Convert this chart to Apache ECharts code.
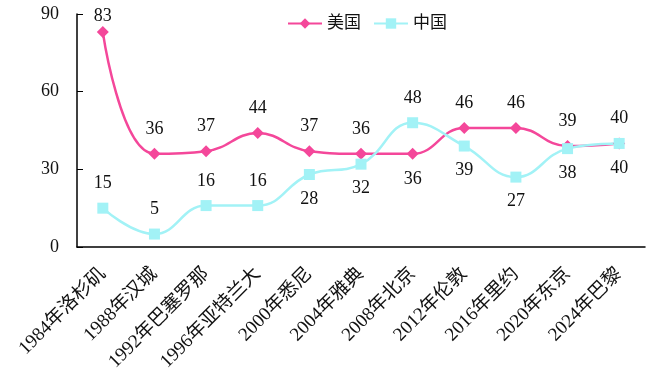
<!DOCTYPE html>
<html><head><meta charset="utf-8">
<script src="https://cdn.jsdelivr.net/npm/echarts@6/dist/echarts.min.js"></script>
<style>html,body{margin:0;padding:0;background:#fff}#c{width:650px;height:390px}</style>
</head><body><div id="c"></div>
<script>
const categories = ['1984年洛杉矶','1988年汉城','1992年巴塞罗那','1996年亚特兰大','2000年悉尼','2004年雅典','2008年北京','2012年伦敦','2016年里约','2020年东京','2024年巴黎'];
const usa = [83,36,37,44,37,36,36,46,46,39,40];
const china = [15,5,16,16,28,32,48,39,27,38,40];
const usaLabelPos = ['top','top','top','top','top','top','bottom','top','top','top','top'];
const chinaLabelPos = ['top','top','top','top','bottom','bottom','top','bottom','bottom','bottom','bottom'];
const yTicks = [0,30,60,90];

const serif = '"Liberation Serif","Noto Sans CJK SC",serif';
const chart = echarts.init(document.getElementById('c'));
const lbl = {show:true, fontFamily:serif, fontSize:18, color:'#111', distance:10};
chart.setOption({
  animation:false,
  legend:{top:10, left:282, itemWidth:34, itemHeight:13, itemGap:12,
    textStyle:{fontFamily:serif, fontSize:17, color:'#111'},
    data:['美国','中国']},
  grid:{left:77, right:5, top:14, bottom:143},
  xAxis:{type:'category', data:categories, boundaryGap:true,
    axisLine:{lineStyle:{color:'#000', width:1.5}},
    axisTick:{inside:true, length:6, lineStyle:{color:'#000'}},
    axisLabel:{rotate:45, interval:0, fontFamily:serif, fontSize:19, color:'#111', margin:24}},
  yAxis:{type:'value', min:yTicks[0], max:yTicks[yTicks.length-1], interval:30,
    splitLine:{show:false},
    axisLine:{show:true, lineStyle:{color:'#000', width:1.5}},
    axisTick:{show:true, inside:true, length:6, lineStyle:{color:'#000'}},
    axisLabel:{fontFamily:serif, fontSize:18, color:'#111', margin:18}},
  series:[
    {name:'美国', type:'line', smooth:0.45, symbol:'diamond', symbolSize:12,
     itemStyle:{color:'#F4479A'}, lineStyle:{color:'#F4479A', width:2.5},
     data:usa.map((v,i)=>({value:v, label:{...lbl, position:usaLabelPos[i], distance: i===0 ? 1 : 10}}))},
    {name:'中国', type:'line', smooth:0.45, symbol:'rect', symbolSize:11,
     itemStyle:{color:'#A2F2F6'}, lineStyle:{color:'#A2F2F6', width:2.5},
     data:china.map((v,i)=>({value:v, label:{...lbl, position:chinaLabelPos[i]}}))}
  ]
});
</script></body></html>
